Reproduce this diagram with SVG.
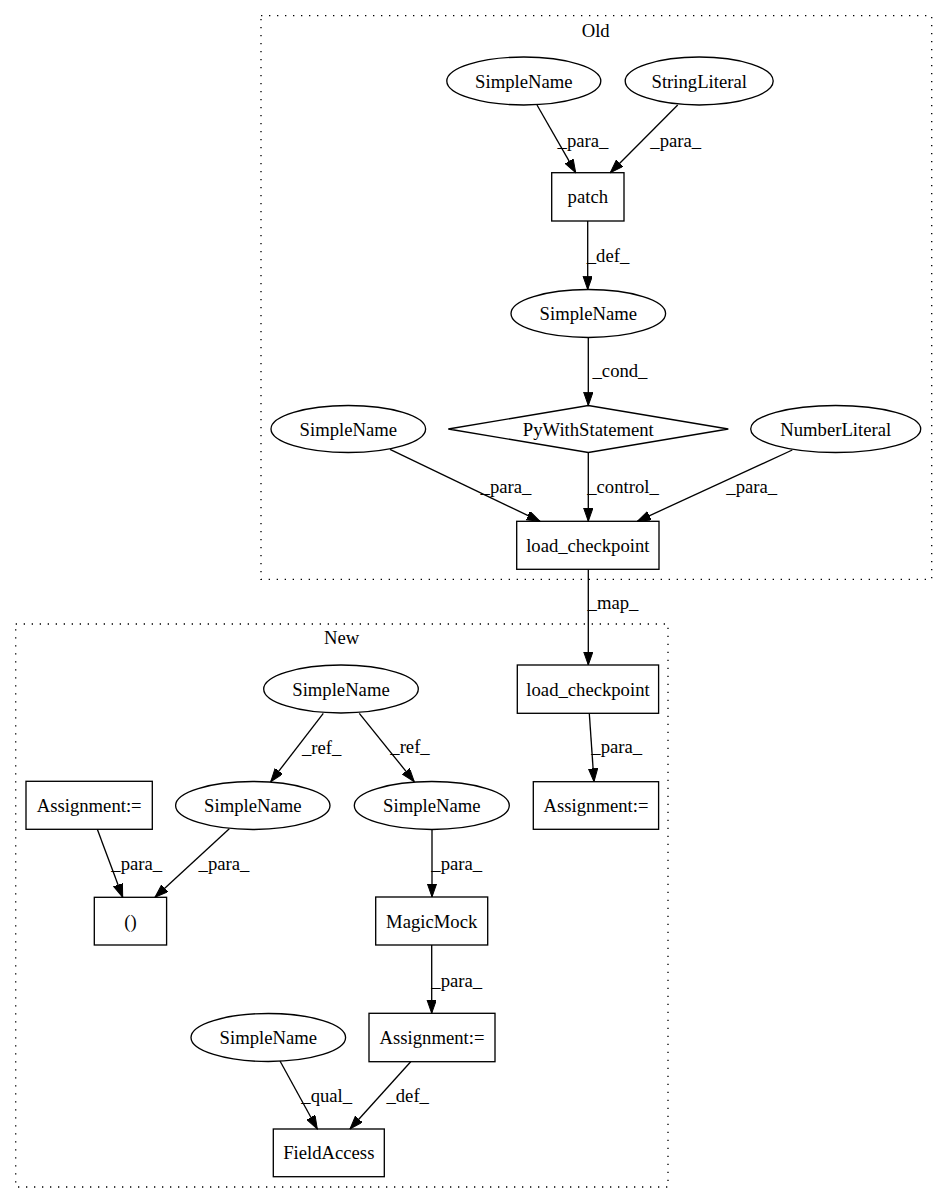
<svg xmlns="http://www.w3.org/2000/svg" width="948" height="1204" viewBox="0 0 948 1204">
<style>
text{font-family:"Liberation Serif","Times New Roman",serif;font-size:18.67px;fill:#000;text-anchor:middle}
.node ellipse,.node rect,.node polygon{fill:none;stroke:#000;stroke-width:1.33}
.cluster{fill:none;stroke:#000;stroke-width:1.33;stroke-dasharray:1.33,6.67}
.edge line{stroke:#000;stroke-width:1.33;marker-end:url(#arr)}
</style>
<defs>
<marker id="arr" markerUnits="userSpaceOnUse" markerWidth="14" markerHeight="10" refX="13.33" refY="4.67" orient="auto">
<path d="M0,0 L13.33,4.67 L0,9.33 z" fill="#000" stroke="#000" stroke-width="1"/>
</marker>
</defs>
<rect width="948" height="1204" fill="#fff"/>
<g id="cluster_old">
<rect class="cluster" x="261" y="15.7" width="670.7" height="563.6"/>
<text x="595.7" y="36.5">Old</text>
</g>
<g id="cluster_new">
<rect class="cluster" x="15.7" y="624" width="652.3" height="563"/>
<text x="341.7" y="644">New</text>
</g>
<g id="edges" class="edge">
<line x1="537" y1="105" x2="575.7" y2="172.7"/><text x="583" y="147">_para_</text>
<line x1="677.7" y1="105" x2="610.3" y2="172.7"/><text x="675.7" y="147">_para_</text>
<line x1="587.7" y1="221" x2="587.7" y2="289.5"/><text x="608" y="262">_def_</text>
<line x1="588.3" y1="337.5" x2="588.3" y2="405.5"/><text x="620" y="376.5">_cond_</text>
<line x1="390" y1="449.3" x2="540" y2="521.3"/><text x="506" y="493">_para_</text>
<line x1="588.3" y1="452.5" x2="588.3" y2="521.3"/><text x="623" y="493">_control_</text>
<line x1="792.3" y1="450" x2="637.3" y2="521.3"/><text x="751.7" y="493">_para_</text>
<line x1="588.3" y1="569.3" x2="588.3" y2="665"/><text x="613" y="608.5">_map_</text>
<line x1="589.3" y1="713.3" x2="594" y2="781.7"/><text x="616.7" y="753">_para_</text>
<line x1="323.3" y1="713.3" x2="270.7" y2="781.7"/><text x="321.7" y="753.5">_ref_</text>
<line x1="359.3" y1="713.3" x2="414.3" y2="781.7"/><text x="410" y="753">_ref_</text>
<line x1="97.3" y1="829.3" x2="122.7" y2="897.3"/><text x="136.7" y="869.5">_para_</text>
<line x1="229.3" y1="828.7" x2="155" y2="897.3"/><text x="224" y="869.5">_para_</text>
<line x1="432" y1="829.3" x2="432" y2="897"/><text x="456.7" y="869.5">_para_</text>
<line x1="431.7" y1="945" x2="431.7" y2="1013.3"/><text x="456.7" y="987">_para_</text>
<line x1="280" y1="1061" x2="317.3" y2="1129"/><text x="326.7" y="1102">_qual_</text>
<line x1="410.7" y1="1061.7" x2="350" y2="1129"/><text x="407.7" y="1102">_def_</text>
</g>
<g id="n1" class="node"><ellipse cx="523.8" cy="81" rx="77" ry="24"/><text x="523.8" y="87.5">SimpleName</text></g>
<g id="n2" class="node"><ellipse cx="699.2" cy="81" rx="74" ry="24"/><text x="699.2" y="87.5">StringLiteral</text></g>
<g id="n3" class="node"><rect x="551.7" y="172.7" width="72.3" height="48.3"/><text x="587.8" y="203.3">patch</text></g>
<g id="n4" class="node"><ellipse cx="588.3" cy="313.5" rx="77.3" ry="24"/><text x="588.3" y="320">SimpleName</text></g>
<g id="n5" class="node"><polygon points="448.3,429 588.3,405.5 728.3,429 588.3,452.5"/><text x="588.3" y="435.5">PyWithStatement</text></g>
<g id="n6" class="node"><ellipse cx="348.3" cy="429" rx="77.3" ry="23.5"/><text x="348.3" y="435.5">SimpleName</text></g>
<g id="n7" class="node"><ellipse cx="835.7" cy="429" rx="85" ry="23.5"/><text x="835.7" y="435.5">NumberLiteral</text></g>
<g id="n8" class="node"><rect x="516.7" y="521.3" width="142.3" height="48"/><text x="587.8" y="551.8">load_checkpoint</text></g>
<g id="n9" class="node"><rect x="517.3" y="665" width="141.3" height="48.3"/><text x="588" y="695.6">load_checkpoint</text></g>
<g id="n10" class="node"><rect x="533.3" y="781.7" width="125.3" height="47.6"/><text x="596" y="812">Assignment:=</text></g>
<g id="n11" class="node"><ellipse cx="341" cy="689" rx="77.3" ry="24"/><text x="341" y="695.5">SimpleName</text></g>
<g id="n12" class="node"><ellipse cx="252.8" cy="805.5" rx="77.2" ry="24"/><text x="252.8" y="812">SimpleName</text></g>
<g id="n13" class="node"><ellipse cx="431.8" cy="805.5" rx="77.5" ry="24"/><text x="431.8" y="812">SimpleName</text></g>
<g id="n14" class="node"><rect x="26" y="781.3" width="126.3" height="48"/><text x="89.2" y="811.8">Assignment:=</text></g>
<g id="n15" class="node"><rect x="94.3" y="897.3" width="72.3" height="47.7"/><text x="130.5" y="927.6">()</text></g>
<g id="n16" class="node"><rect x="375.7" y="897" width="112" height="48"/><text x="431.7" y="927.5">MagicMock</text></g>
<g id="n17" class="node"><rect x="369" y="1013.3" width="126" height="48.4"/><text x="432" y="1044">Assignment:=</text></g>
<g id="n18" class="node"><ellipse cx="268.3" cy="1037.5" rx="77.3" ry="24"/><text x="268.3" y="1044">SimpleName</text></g>
<g id="n19" class="node"><rect x="273.3" y="1129" width="111" height="47.7"/><text x="328.8" y="1159.4">FieldAccess</text></g>
</svg>
